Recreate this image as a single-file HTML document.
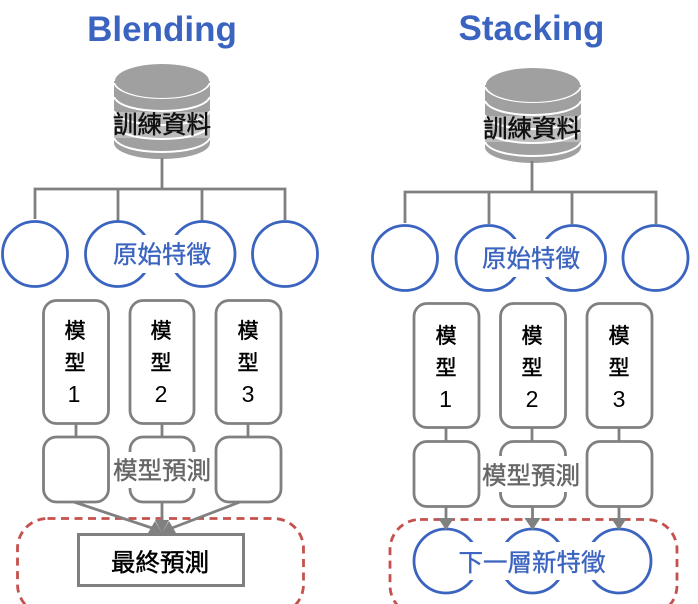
<!DOCTYPE html>
<html><head><meta charset="utf-8"><style>
html,body{margin:0;padding:0;background:#fff;width:698px;height:604px;overflow:hidden}
svg{display:block}
text{font-family:"Liberation Sans","Noto Sans CJK TC",sans-serif;text-anchor:middle}
.t{font-size:35px;font-weight:700;fill:#3b64c0}
.b{font-size:24.5px;fill:#3b64c0;stroke:#3b64c0;stroke-width:.35}
.k{font-size:24.5px;fill:#111;stroke:#111;stroke-width:.5}
.g{font-size:24.5px;fill:#666;stroke:#666;stroke-width:.4}
.m{font-size:21px;fill:#000;stroke:#000;stroke-width:.5}
.n{font-size:23px;fill:#000}
.l{stroke:#808080;stroke-width:2.8;fill:none}
.c{stroke:#3b64c0;stroke-width:2.8;fill:#fff}
.r{stroke:#808080;stroke-width:2.8;fill:#fff}
.d{stroke:#c5504d;stroke-width:2.8;fill:none;stroke-dasharray:8 5.5}
.a{stroke:#fff;stroke-width:2;fill:none}
</style></head><body>
<svg width="698" height="604" viewBox="0 0 698 604" xmlns="http://www.w3.org/2000/svg">
<defs>
<g id="cyl">
<path d="M-48 17V79C-48 88 -26 95 0 95S48 88 48 79V17Z" fill="#a0a0a0"/>
<path class="a" d="M-48 19C-44 28 -24 34 0 34S44 28 48 19"/>
<path class="a" d="M-48 33C-44 42 -24 47 0 47S44 42 48 33"/>
<path class="a" d="M-48 47C-44 56 -24 61 0 61S44 56 48 47"/>
<path class="a" d="M-48 61C-44 70 -24 75 0 75S44 70 48 61"/>
<path class="a" d="M-48 74C-44 83 -24 88 0 88S44 83 48 74"/>
<ellipse cx="0" cy="17" rx="47" ry="17" fill="#a0a0a0"/>
</g>
</defs>

<!-- Blending -->
<text class="t" x="162" y="41">Blending</text>
<use href="#cyl" x="162" y="64"/>
<rect x="113" y="112" width="98" height="26" fill="#fff" opacity=".3"/>
<text class="k" x="162" y="133">訓練資料</text>
<path class="l" d="M162 158V189M35 219V189H285V220M118 189V221M202 189V221"/>
<circle class="c" cx="35" cy="254" r="32.500"/>
<circle class="c" cx="118" cy="254" r="32.500"/>
<circle class="c" cx="202.500" cy="254" r="32.500"/>
<circle class="c" cx="285" cy="254" r="32.500"/>
<rect x="112" y="235" width="100" height="38" fill="#fff"/>
<text class="b" x="162" y="263">原始特徵</text>

<path class="l" d="M76 423V437M162 423V437M248 423V437"/>
<rect class="r" x="43.500" y="300.500" width="65" height="123" rx="13"/>
<rect class="r" x="130" y="300.500" width="64" height="123" rx="13"/>
<rect class="r" x="216" y="300.500" width="65" height="123" rx="13"/>
<rect class="r" x="43.500" y="437" width="65" height="65" rx="13"/>
<rect class="r" x="130" y="437" width="64" height="65" rx="13"/>
<rect class="r" x="216" y="437" width="65" height="65" rx="13"/>
<rect x="112" y="452" width="100" height="36" fill="#fff"/>
<text class="g" x="162" y="479">模型預測</text>
<text class="m" x="75" y="338">模</text><text class="m" x="75" y="370">型</text>
<text class="m" x="161" y="338">模</text><text class="m" x="161" y="370">型</text>
<text class="m" x="248" y="338">模</text><text class="m" x="248" y="370">型</text>
<text class="n" x="74" y="402">1</text><text class="n" x="161" y="402">2</text><text class="n" x="248" y="402">3</text>

<rect class="d" x="17.500" y="518.500" width="286" height="96" rx="30"/>
<path class="l" d="M74 502L152 528M162 502V524M240 502L172 528"/>
<path d="M155 520H169L162 533Z M148 533L155 521L162 533Z M176 533L169 521L162 533Z" fill="#808080"/>
<rect x="78.500" y="534.500" width="165" height="51" fill="#fff" stroke="#808080" stroke-width="3"/>
<text class="k" x="160" y="571" style="fill:#000;stroke:#000">最終預測</text>

<!-- Stacking -->
<text class="t" x="531.500" y="40">Stacking</text>
<use href="#cyl" x="533" y="68"/>
<rect x="484" y="116" width="98" height="26" fill="#fff" opacity=".3"/>
<text class="k" x="532" y="137">訓練資料</text>
<path class="l" d="M532 161V192M405 223V192H656V224M489 192V224M572 192V224"/>
<circle class="c" cx="405" cy="258" r="32.500"/>
<circle class="c" cx="488.500" cy="258" r="32.500"/>
<circle class="c" cx="573" cy="258" r="32.500"/>
<circle class="c" cx="655.500" cy="258" r="32.500"/>
<rect x="481" y="239" width="100" height="38" fill="#fff"/>
<text class="b" x="531" y="267">原始特徵</text>

<path class="l" d="M446 427V441M532 427V441M619 427V441"/>
<rect class="r" x="414" y="303.500" width="65" height="124" rx="13"/>
<rect class="r" x="500.500" y="303.500" width="65" height="124" rx="13"/>
<rect class="r" x="587" y="303.500" width="65" height="124" rx="13"/>
<rect class="r" x="414" y="441.500" width="65" height="65" rx="13"/>
<rect class="r" x="500.500" y="441.500" width="65" height="65" rx="13"/>
<rect class="r" x="587" y="441.500" width="65" height="65" rx="13"/>
<rect x="481" y="456" width="100" height="36" fill="#fff"/>
<text class="g" x="531" y="484">模型預測</text>
<text class="m" x="446" y="343">模</text><text class="m" x="446" y="375">型</text>
<text class="m" x="532" y="343">模</text><text class="m" x="532" y="375">型</text>
<text class="m" x="619" y="343">模</text><text class="m" x="619" y="375">型</text>
<text class="n" x="445.500" y="407">1</text><text class="n" x="532" y="407">2</text><text class="n" x="619" y="407">3</text>

<rect class="d" x="390" y="519.500" width="287" height="96" rx="30"/>
<circle class="c" cx="446" cy="561" r="32"/>
<circle class="c" cx="532.500" cy="561" r="32"/>
<circle class="c" cx="619" cy="561" r="32"/>
<rect x="458" y="542" width="148" height="38" fill="#fff"/>
<text class="b" x="532" y="571">下一層新特徵</text>
<path class="l" d="M446 506V520M532.500 506V520M619 506V520"/>
<path d="M446 530L438 518H454Z M532.500 530L524.500 518H540.500Z M619 530L611 518H627Z" fill="#808080"/>
</svg>
</body></html>
